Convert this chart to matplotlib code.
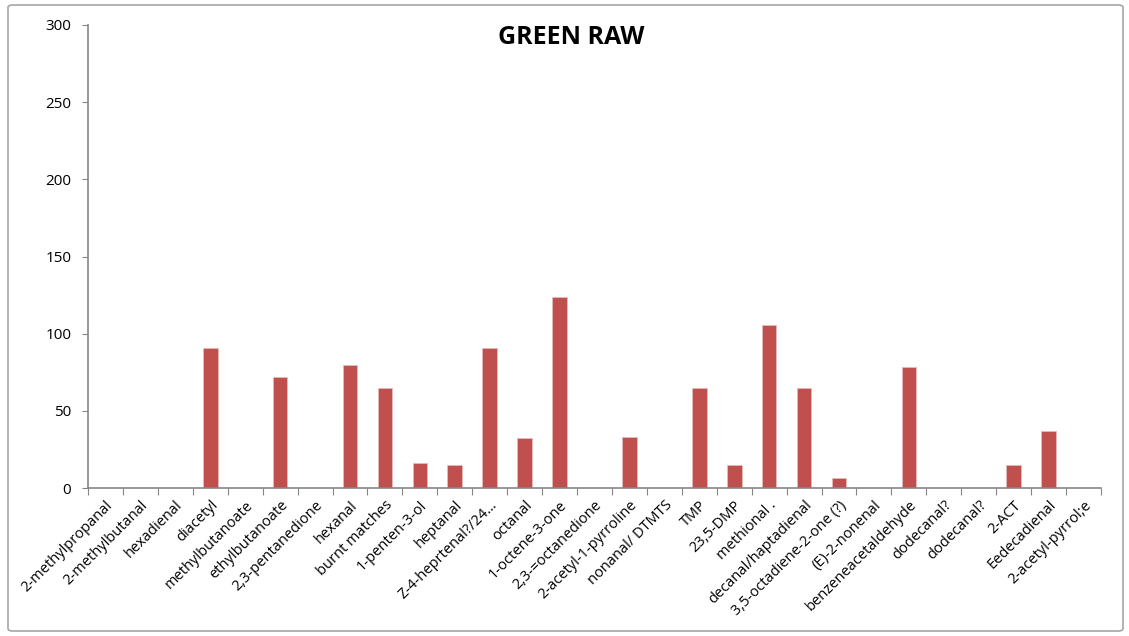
import numpy as np
import matplotlib.pyplot as plt
from matplotlib.patches import FancyBboxPatch

# compuestos y valores
compounds = ['2-methylpropanal', '2-methylbutanal', 'hexadienal', 'diacetyl',
             'methylbutanoate', 'ethylbutanoate', '2,3-pentanedione', 'hexanal',
             'burnt matches', '1-penten-3-ol', 'heptanal', 'Z-4-heprtenal?/24…',
             'octanal', '1-octene-3-one', '2,3-=octanedione', '2-acetyl-1-pyrroline',
             'nonanal/ DTMTS', 'TMP', '23,5-DMP', 'methional .',
             'decanal/haptadienal', '3,5-octadiene-2-one (?)', '(E)-2-nonenal',
             'benzeneacetaldehyde', 'dodecanal?', 'dodecanal?', '2-ACT',
             'Eedecadienal', '2-acetyl-pyrrol;e']
values = [0, 0, 0, 91, 0, 72, 0, 80, 64.5, 16, 15, 91, 32.5, 124, 0, 33,
          0, 64.5, 15, 105.5, 64.5, 6.3, 0, 78.5, 0, 0, 15, 37, 0]

plt.rcParams['font.family'] = ['Open Sans', 'DejaVu Sans']

fig = plt.figure(figsize=(11.29, 6.36), dpi=100)
ax = fig.add_axes([88 / 1129, 1 - 488 / 636, (1101 - 88) / 1129, (488 - 25) / 636])

x = np.arange(len(compounds))
ax.bar(x, values, width=0.42, color='#C0504D', edgecolor='#E6B9B8', linewidth=0.6)

ax.set_xlim(-0.5, len(compounds) - 0.5)
ax.set_ylim(0, 300)
ax.set_yticks(np.arange(0, 301, 50))
ax.tick_params(axis='y', labelsize=11, color='#868686', length=4, pad=8)

# ticks entre categorias
ax.set_xticks(np.arange(-0.5, len(compounds), 1))
ax.set_xticklabels([])
ax.tick_params(axis='x', which='major', color='#868686', length=5)
ax.set_xticks(x, minor=True)
ax.set_xticklabels(compounds, minor=True, rotation=45, ha='right',
                   rotation_mode='anchor', fontsize=10.5)
ax.tick_params(axis='x', which='minor', length=0, pad=7)

for s in ['top', 'right']:
    ax.spines[s].set_visible(False)
for s in ['left', 'bottom']:
    ax.spines[s].set_color('#868686')
    ax.spines[s].set_linewidth(1.2)

fig.text(571 / 1129, 1 - 38 / 636, 'GREEN RAW', fontsize=18, fontweight='bold',
         ha='center', va='center')

# borde del area del grafico
border = FancyBboxPatch((8 / 1129, 5 / 636), 1 - 14 / 1129, 1 - 10 / 636,
                        boxstyle='round,pad=0,rounding_size=0.004',
                        transform=fig.transFigure, fill=False,
                        edgecolor='#A6A6A6', linewidth=1.2)
fig.patches.append(border)

fig.savefig('out.png', dpi=100)
